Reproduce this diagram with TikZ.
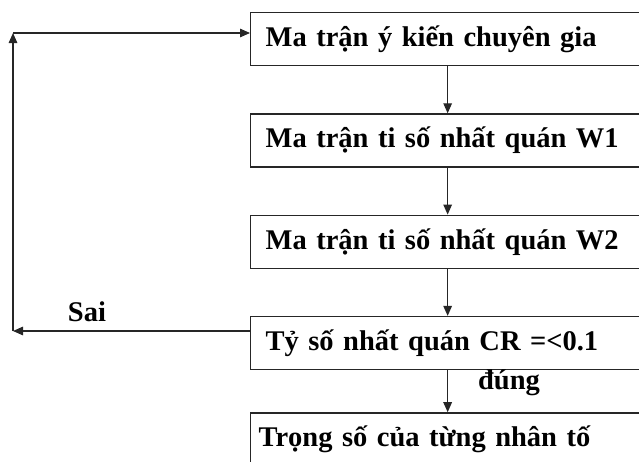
\documentclass[tikz,border=0pt]{standalone}
\usepackage{fontspec}
\setmainfont{Liberation Serif}
\usetikzlibrary{positioning,arrows.meta}

\begin{document}
\begin{tikzpicture}[x=1pt, y=1pt,
    stepbox/.style={rectangle, draw=black!85, line width=1.3pt, minimum width=394pt, minimum height=53pt,
                    text width=364pt, align=left, inner xsep=15pt, font=\fontsize{28.5}{33}\selectfont\bfseries},
    flow/.style={-{Triangle[length=10pt, width=8.5pt]}, line width=1.3pt, draw=black!85},
    lbl/.style={font=\fontsize{28.5}{33}\selectfont\bfseries}
   ]
   \useasboundingbox (0,0) rectangle (639,-461);
   \clip (0,0) rectangle (639,-461);
   \node[stepbox, anchor=north west] (expert) at (250,-12) {Ma trận ý kiến chuyên gia};
   \node[stepbox] (ratioone) [below=47pt of expert]   {Ma trận ti số nhất quán W1};
   \node[stepbox] (ratiotwo) [below=47pt of ratioone] {Ma trận ti số nhất quán W2};
   \node[stepbox] (consist)  [below=47pt of ratiotwo] {Tỷ số nhất quán CR =<0.1};
   \node[stepbox, inner xsep=8pt, text width=378pt] (weight) [below=42pt of consist] {Trọng số của từng nhân tố};

   \coordinate (low) at (13,-331);
   \coordinate (high) at (13,-33);

  \draw[flow] (expert.south) -- (ratioone.north);
  \draw[flow] (ratioone.south) -- (ratiotwo.north);
  \draw[flow] (ratiotwo.south) -- (consist.north);
  \draw[flow] (consist.south) -- (weight.north);
  \draw[flow] (low -| consist.west) -- (low);
  \draw[flow] (low) -- (high);
  \draw[flow] (high) -- (high -| expert.west);

  \node[lbl] (sai) at (87,-312) {Sai};
  \node[lbl] (dung) at (509,-383) {đúng};
 \end{tikzpicture}
\end{document}
